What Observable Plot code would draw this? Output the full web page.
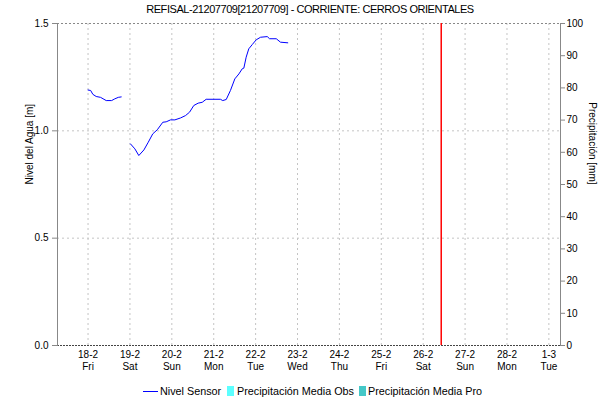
<!DOCTYPE html>
<html>
<head>
<meta charset="utf-8">
<script src="https://cdn.jsdelivr.net/npm/d3@7"></script>
<script src="https://cdn.jsdelivr.net/npm/@observablehq/plot@0.6"></script>
<style>
  html, body { margin: 0; padding: 0; background: white; }
  body { width: 602px; height: 404px; overflow: hidden; font-family: "Liberation Sans", Arial, sans-serif; position: relative; }
  #title { height: 18px; line-height: 18px; text-align: center; font-size: 11px; letter-spacing: -0.45px; color: #000; padding-left: 18px; }
  #legend { position: relative; height: 24px; font-size: 10.8px; color: #000; }
  #legend .item { position: absolute; top: 0; height: 24px; line-height: 22px; white-space: nowrap; }
  #legend .sw { position: absolute; }
</style>
</head>
<body>
<div id="title"></div>
<div id="chart"></div>
<div id="legend"></div>
<script>
// ---- data ----
const titleText = "REFISAL-21207709[21207709] - CORRIENTE: CERROS ORIENTALES";
const yLabelLeft = "Nivel del Agua [m]";
const yLabelRight = "Precipitación [mm]";
const legendNames = ["Nivel Sensor", "Precipitación Media Obs", "Precipitación Media Pro"];
const legendColors = ["#0000ff", "#5cffff", "#45c8c8"];

// Nivel Sensor, segment 1 (UTC times)
const seg1Time = ["2022-02-18T00:00","2022-02-18T01:30","2022-02-18T02:45","2022-02-18T04:40","2022-02-18T07:10",
                  "2022-02-18T10:25","2022-02-18T13:30","2022-02-18T15:20","2022-02-18T17:20","2022-02-18T19:00"];
const seg1Level = [1.19, 1.188, 1.17, 1.16, 1.156, 1.141, 1.141, 1.149, 1.156, 1.158];

// Nivel Sensor, segment 2
const seg2Time = ["2022-02-19T00:20","2022-02-19T02:50","2022-02-19T05:05","2022-02-19T08:00","2022-02-19T10:30",
                  "2022-02-19T13:05","2022-02-19T15:40","2022-02-19T18:50","2022-02-19T20:45","2022-02-19T23:15",
                  "2022-02-20T01:45","2022-02-20T05:00","2022-02-20T07:50","2022-02-20T10:10","2022-02-20T12:35",
                  "2022-02-20T15:05","2022-02-20T17:25","2022-02-20T19:40","2022-02-21T03:50","2022-02-21T05:10",
                  "2022-02-21T07:10","2022-02-21T09:35","2022-02-21T12:05","2022-02-21T14:25","2022-02-21T16:20",
                  "2022-02-21T17:15","2022-02-21T18:35","2022-02-21T20:05","2022-02-21T22:05","2022-02-22T00:20",
                  "2022-02-22T02:50","2022-02-22T06:40","2022-02-22T08:00","2022-02-22T11:50","2022-02-22T14:15",
                  "2022-02-22T18:25"];
const seg2Level = [0.939, 0.916, 0.885, 0.911, 0.947,
                   0.986, 1.005, 1.040, 1.042, 1.051,
                   1.051, 1.060, 1.071, 1.087, 1.118,
                   1.129, 1.133, 1.147, 1.147, 1.141,
                   1.146, 1.188, 1.242, 1.265, 1.289,
                   1.292, 1.343, 1.382, 1.402, 1.424,
                   1.436, 1.439, 1.429, 1.429, 1.413,
                   1.410];

// Precipitation series (no bars visible)
const precipObsTime = [];
const precipObs = [];
const precipProTime = [];
const precipPro = [];

const levelTicks = [0, 0.5, 1.0, 1.5];
const precipTicks = [0, 10, 20, 30, 40, 50, 60, 70, 80, 90, 100];
const precipMax = 100;
const levelMax = 1.5;
const nowTime = "2022-02-26T10:20";
const xStart = "2022-02-17T06:30";
const xEnd = "2022-03-01T06:40";
const tickStart = "2022-02-18T00:00";
const tickEnd = "2022-03-01T00:00";

// ---- build ----
const utc = s => new Date(s + "Z");
const levelData = [
  ...seg1Time.map((t, i) => ({t: utc(t), v: seg1Level[i], s: 1})),
  ...seg2Time.map((t, i) => ({t: utc(t), v: seg2Level[i], s: 2}))
];
const obsData = precipObsTime.map((t, i) => ({t: utc(t), v: precipObs[i]}));
const proData = precipProTime.map((t, i) => ({t: utc(t), v: precipPro[i]}));
const dayTicks = d3.utcDay.range(utc(tickStart), d3.utcDay.offset(utc(tickEnd), 1));
const fmtDay = d3.utcFormat("%-d-%-m");
const fmtWd = d3.utcFormat("%a");
const toLevel = p => p * levelMax / precipMax;

document.getElementById("title").textContent = titleText;

const gridColor = "#c4c4c4";
const chart = Plot.plot({
  width: 602,
  height: 362,
  marginLeft: 57,
  marginRight: 42,
  marginTop: 5,
  marginBottom: 35,
  style: {fontFamily: "Liberation Sans, Arial, sans-serif", fontSize: "10px", background: "white", overflow: "visible"},
  x: {type: "utc", domain: [utc(xStart), utc(xEnd)]},
  y: {domain: [0, levelMax]},
  marks: [
    Plot.ruleX(dayTicks, {stroke: gridColor, strokeDasharray: "2,3"}),
    Plot.ruleY([0.5, 1.0], {stroke: gridColor, strokeDasharray: "2,3"}),
    Plot.ruleY([levelMax], {stroke: "#888", strokeDasharray: "2,2"}),
    Plot.ruleY([0], {stroke: "#444", strokeDasharray: "2,1"}),
    Plot.rectY(obsData, {x: "t", interval: d3.utcHour, y: d => toLevel(d.v), fill: legendColors[1]}),
    Plot.rectY(proData, {x: "t", interval: d3.utcHour, y: d => toLevel(d.v), fill: legendColors[2]}),
    Plot.line(levelData, {x: "t", y: "v", z: "s", stroke: legendColors[0], strokeWidth: 1}),
    Plot.ruleX([utc(nowTime)], {stroke: "#ff0000", strokeWidth: 1.5}),
    Plot.frame({anchor: "left", stroke: "#888"}),
    Plot.frame({anchor: "right", stroke: "#888"}),
    Plot.axisY(levelTicks, {anchor: "left", tickSize: 5, tickPadding: 4, tickFormat: d3.format(".1f"), stroke: "#888", label: null}),
    Plot.axisY(precipTicks.map(toLevel), {anchor: "right", tickSize: 4, tickPadding: 2, tickFormat: d => String(Math.round(d * precipMax / levelMax)), stroke: "#888", label: null}),
    Plot.axisX(dayTicks, {anchor: "bottom", tickSize: 0, tickPadding: 4, lineHeight: 1.2, tickFormat: d => fmtDay(d) + "\n" + fmtWd(d), label: null}),
    Plot.text([yLabelLeft], {frameAnchor: "left", dx: -28, rotate: -90, fontSize: 10, text: d => d}),
    Plot.text([yLabelRight], {frameAnchor: "right", dx: 32, rotate: 90, fontSize: 10, text: d => d})
  ]
});
document.getElementById("chart").appendChild(chart);

// legend
const lg = document.getElementById("legend");
const items = [
  {name: legendNames[0], color: legendColors[0], kind: "line", sx: 143, tx: 160},
  {name: legendNames[1], color: legendColors[1], kind: "box", sx: 227, tx: 237},
  {name: legendNames[2], color: legendColors[2], kind: "box", sx: 359, tx: 368}
];
for (const it of items) {
  const sw = document.createElement("div");
  sw.className = "sw";
  if (it.kind === "line") {
    Object.assign(sw.style, {left: it.sx + "px", top: "11px", width: "15px", height: "1px", background: it.color});
  } else {
    Object.assign(sw.style, {left: it.sx + "px", top: "6px", width: "7px", height: "10px", background: it.color});
  }
  lg.appendChild(sw);
  const tx = document.createElement("div");
  tx.className = "item";
  tx.style.left = it.tx + "px";
  tx.textContent = it.name;
  lg.appendChild(tx);
}
</script>
</body>
</html>
